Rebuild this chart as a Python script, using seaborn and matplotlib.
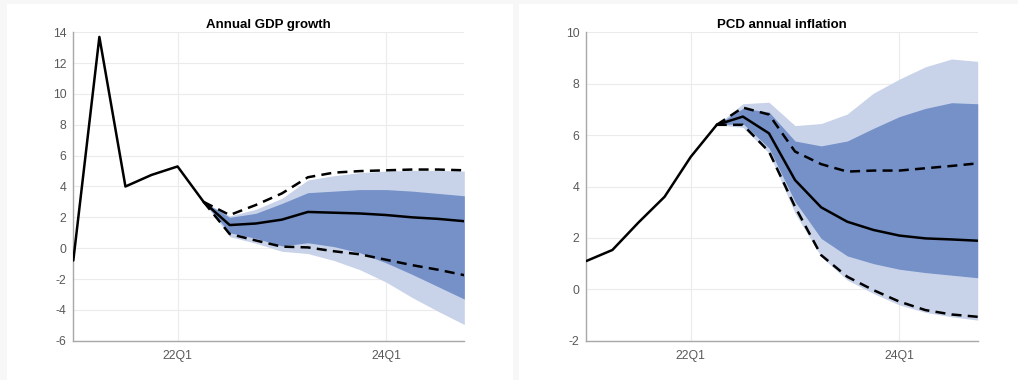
import numpy as np
import pandas as pd
import matplotlib
matplotlib.use("Agg")
import matplotlib.pyplot as plt
import seaborn as sns
from matplotlib.patches import Rectangle

# ---------------- data ----------------
quarters = ['21Q1', '21Q2', '21Q3', '21Q4', '22Q1', '22Q2', '22Q3', '22Q4',
            '23Q1', '23Q2', '23Q3', '23Q4', '24Q1', '24Q2', '24Q3', '24Q4']
tick_labels = ['22Q1', '24Q1']

# Annual GDP growth
gdp_hist = [-0.8, 13.7, 4.0, 4.75, 5.3, 3.0]                 # 21Q1..22Q2
gdp_median = [3.0, 1.5, 1.6, 1.85, 2.35, 2.3, 2.25, 2.15, 2.0, 1.9, 1.75]   # 22Q2..24Q4
gdp_dash_hi = [3.0, 2.15, 2.8, 3.55, 4.6, 4.9, 5.0, 5.05, 5.1, 5.1, 5.05]
gdp_dash_lo = [3.0, 0.92, 0.5, 0.1, 0.05, -0.2, -0.4, -0.75, -1.1, -1.4, -1.75]
gdp_dark_hi = [3.0, 2.0, 2.26, 2.9, 3.6, 3.7, 3.8, 3.8, 3.7, 3.55, 3.4]
gdp_dark_lo = [3.0, 1.0, 0.64, 0.15, 0.35, 0.1, -0.3, -0.95, -1.7, -2.5, -3.3]
gdp_light_hi = [3.0, 2.09, 2.52, 3.23, 4.42, 4.7, 4.9, 5.0, 5.05, 5.05, 5.0]
gdp_light_lo = [3.0, 0.75, 0.32, -0.2, -0.35, -0.8, -1.4, -2.2, -3.2, -4.1, -4.95]

# PCD annual inflation
inf_hist = [1.1, 1.53, 2.6, 3.6, 5.15, 6.4]
inf_median = [6.4, 6.72, 6.07, 4.25, 3.19, 2.63, 2.31, 2.09, 1.98, 1.94, 1.89]
inf_dash_hi = [6.4, 7.07, 6.8, 5.36, 4.87, 4.58, 4.62, 4.62, 4.71, 4.8, 4.9]
inf_dash_lo = [6.4, 6.4, 5.36, 3.21, 1.33, 0.49, -0.03, -0.48, -0.81, -0.98, -1.07]
inf_dark_hi = [6.4, 7.04, 6.9, 5.77, 5.58, 5.77, 6.26, 6.72, 7.04, 7.26, 7.22]
inf_dark_lo = [6.4, 6.45, 5.5, 3.41, 1.98, 1.3, 1.0, 0.78, 0.65, 0.55, 0.45]
inf_light_hi = [6.4, 7.22, 7.28, 6.37, 6.45, 6.82, 7.63, 8.18, 8.66, 8.96, 8.87]
inf_light_lo = [6.4, 6.3, 5.3, 2.96, 1.27, 0.36, -0.16, -0.61, -0.9, -1.07, -1.2]

titles = ['Annual GDP growth', 'PCD annual inflation']

# ---------------- style ----------------
sns.set_theme(style="white")
plt.rcParams['font.family'] = ['Liberation Sans', 'DejaVu Sans']

LIGHT = '#c8d3ea'
DARK = '#7591c8'
GRID = '#ebebeb'
SPINE = '#a8a8a8'
TXT = '#595959'

fig = plt.figure(figsize=(10.18, 3.8), dpi=100)
fig.patch.set_facecolor('#f7f7f7')
W, H = 1018.0, 380.0
fig.patches.append(Rectangle((7 / W, 0), (513 - 7) / W, (380 - 4) / H,
                             transform=fig.transFigure, facecolor='white',
                             edgecolor='none', zorder=-10))
fig.patches.append(Rectangle((519 / W, 0), (1018 - 519) / W, (380 - 4) / H,
                             transform=fig.transFigure, facecolor='white',
                             edgecolor='none', zorder=-10))

ax1 = fig.add_axes([73.3 / W, 1 - 340.7 / H, 391 / W, 308.4 / H])
ax2 = fig.add_axes([586.3 / W, 1 - 340.7 / H, 391.4 / W, 308.4 / H])

x_all = np.arange(len(quarters))
x_hist = x_all[:6]
x_fc = x_all[5:]


def draw(ax, hist, med, dhi, dlo, khi, klo, lhi, llo, ylim, yticks, title):
    ax.set_facecolor('white')
    ax.fill_between(x_fc, llo, lhi, color=LIGHT, lw=0, zorder=1)
    ax.fill_between(x_fc, klo, khi, color=DARK, lw=0, zorder=2)
    df_h = pd.DataFrame({'q': x_hist, 'v': hist})
    df_m = pd.DataFrame({'q': x_fc, 'v': med})
    df_u = pd.DataFrame({'q': x_fc, 'v': dhi})
    df_l = pd.DataFrame({'q': x_fc, 'v': dlo})
    for d in (df_u, df_l):
        sns.lineplot(data=d, x='q', y='v', ax=ax, color='black', lw=1.8,
                     linestyle=(0, (4.0, 2.5)), zorder=3)
    for d in (df_h, df_m):
        sns.lineplot(data=d, x='q', y='v', ax=ax, color='black', lw=1.8,
                     zorder=4)
    ax.set_xlim(0, len(quarters) - 1)
    ax.set_ylim(*ylim)
    ax.set_yticks(yticks)
    ax.set_yticklabels([str(t) for t in yticks])
    ax.set_xticks([quarters.index(t) for t in tick_labels])
    ax.set_xticklabels(tick_labels)
    ax.set_xlabel('')
    ax.set_ylabel('')
    ax.grid(True, color=GRID, lw=0.8)
    ax.set_axisbelow(True)
    for s in ('top', 'right'):
        ax.spines[s].set_visible(False)
    for s in ('left', 'bottom'):
        ax.spines[s].set_color(SPINE)
        ax.spines[s].set_linewidth(1.0)
    ax.tick_params(direction='in', length=4, width=0.8, color=SPINE,
                   labelsize=8.8, labelcolor=TXT, pad=5)
    ax.tick_params(axis='x', pad=7)
    ax.set_title(title, fontsize=9.5, fontweight='bold', color='black', pad=3)


draw(ax1, gdp_hist, gdp_median, gdp_dash_hi, gdp_dash_lo, gdp_dark_hi,
     gdp_dark_lo, gdp_light_hi, gdp_light_lo, (-6, 14), list(range(-6, 15, 2)),
     titles[0])
draw(ax2, inf_hist, inf_median, inf_dash_hi, inf_dash_lo, inf_dark_hi,
     inf_dark_lo, inf_light_hi, inf_light_lo, (-2, 10), list(range(-2, 11, 2)),
     titles[1])

fig.savefig('out.png', dpi=100, facecolor=fig.get_facecolor())
